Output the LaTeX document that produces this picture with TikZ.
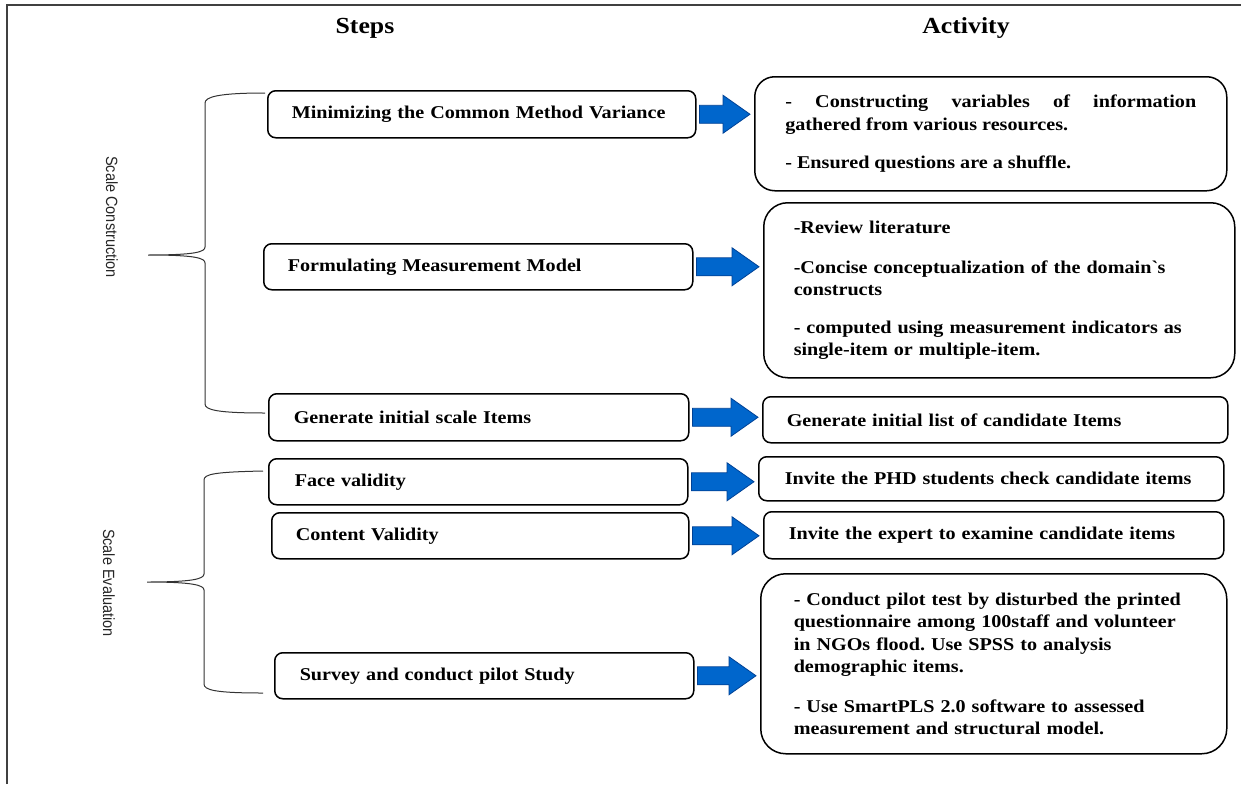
\documentclass[tikz,border=0pt]{standalone}
\usepackage{fontspec}
\setmainfont{Liberation Serif}[FakeStretch=1.12]
\newfontfamily\lblfont{Liberation Sans}
\usetikzlibrary{calc}
\definecolor{arrowblue}{RGB}{0,102,204}
\definecolor{arrowedge}{RGB}{0,66,150}
\tikzset{
  boxbase/.style={draw=black, line width=1.5pt, anchor=north west, inner ysep=0pt,
    font=\frenchspacing\bfseries\fontsize{18}{22.5}\selectfont, align=left},
  stepbox/.style={boxbase, rounded corners=8pt},
  bigbox/.style={boxbase, rounded corners=22pt},
  blockarr/.style={fill=arrowblue, draw=arrowedge, line width=0.8pt},
  bracel/.style={draw=black!80, line width=1pt},
  frameline/.style={draw=black!75, line width=2pt},
  title/.style={font=\bfseries\fontsize{23}{27}\selectfont},
  grouplbl/.style={font=\lblfont\fontsize{14.5}{17}\selectfont, rotate=-90, text=black!85},
}
\newcommand\blkarrow[2]{%
  \path[blockarr] let \p1=(#1.east), \p2=(#2.west) in
  (\x1+3pt,\y1+9pt) -- (\x2-31pt,\y1+9pt) -- (\x2-31pt,\y1+19pt) -- (\x2-4pt,\y1)
  -- (\x2-31pt,\y1-19pt) -- (\x2-31pt,\y1-9pt) -- (\x1+3pt,\y1-9pt) -- cycle;}
\begin{document}
\begin{tikzpicture}[x=1pt,y=-1pt]
\useasboundingbox (0,0) rectangle (1241,784);
% frame
\draw[frameline] (7,784) -- (7,5) -- (1241,5);
% titles
\node[title] (steps) at (365,28) {Steps};
\node[title] (activity) at (966,28) {Activity};
% step boxes
\node[stepbox, minimum height=47pt, inner xsep=24pt, text width=380pt] (s1) at (267,90) {Minimizing the Common Method Variance};
\node[stepbox, minimum height=46pt, inner xsep=24pt, text width=381pt] (s2) at (263,243) {Formulating Measurement Model};
\node[stepbox, minimum height=47pt, inner xsep=25pt, text width=370pt] (s3) at (268,393) {Generate initial scale Items};
\node[stepbox, minimum height=46pt, inner xsep=26pt, text width=367pt] (s4) at (268,458) {Face validity};
\node[stepbox, minimum height=46pt, inner xsep=24pt, text width=369pt] (s5) at (271,512) {Content Validity};
\node[stepbox, minimum height=46pt, inner xsep=25pt, text width=369pt] (s6) at (274,652) {Survey and conduct pilot Study};
% activity boxes
\node[bigbox, rounded corners=20pt, minimum height=114pt, inner xsep=30.5pt, text width=411pt, align=justify] (a1) at (754,76)
  {- Constructing variables of information\linebreak gathered from various resources.\\[16pt]- Ensured questions are a shuffle.};
\node[bigbox, rounded corners=24pt, minimum height=175pt, inner xsep=30pt, text width=411pt] (a2) at (763,202)
  {-Review literature\\[17pt]-Concise conceptualization of the domain\textasciigrave s\\constructs\\[15pt]- computed using measurement indicators as\\single-item or multiple-item.};
\node[stepbox, minimum height=46pt, inner xsep=24pt, text width=417pt] (a3) at (762,396) {Generate initial list of candidate Items};
\node[stepbox, minimum height=44pt, inner xsep=26pt, text width=413pt] (a4) at (758,456) {Invite the PHD students check candidate items};
\node[stepbox, minimum height=47pt, inner xsep=25pt, text width=410pt] (a5) at (763,511) {Invite the expert to examine candidate items};
\node[bigbox, rounded corners=25pt, minimum height=180pt, inner xsep=33pt, text width=400pt] (a6) at (760,573)
  {- Conduct pilot test by disturbed the printed\\questionnaire among 100staff and volunteer\\in NGOs flood. Use SPSS to analysis\\demographic items.\\[17pt]- Use SmartPLS 2.0 software to assessed\\measurement and structural model.};
% block arrows
\blkarrow{s1}{a1}
\blkarrow{s2}{a2}
\blkarrow{s3}{a3}
\blkarrow{s4}{a4}
\blkarrow{s5}{a5}
\blkarrow{s6}{a6}
% braces
\coordinate (b1tip) at (148,255);
\coordinate (b2tip) at (147,582);
\draw[bracel] (265,93) .. controls (218,93) and (205,97) .. (205,103) -- (205,247)
  .. controls (205,252) and (195,255) .. (b1tip)
  .. controls (195,255) and (205,258) .. (205,263) -- (205,404)
  .. controls (205,410) and (218,413) .. (265,413);
\draw[bracel] (263,471) .. controls (215,472) and (204,474) .. (204,480) -- (204,574)
  .. controls (204,579) and (192,582) .. (b2tip)
  .. controls (192,582) and (204,585) .. (204,590) -- (204,684)
  .. controls (204,690) and (215,693) .. (263,693);
% group labels
\node[grouplbl] (sc) at (112,217) {\scalebox{1}[1.12]{Scale Construction}};
\node[grouplbl] (se) at (109,583) {\scalebox{1}[1.12]{Scale Evaluation}};
\end{tikzpicture}
\end{document}
